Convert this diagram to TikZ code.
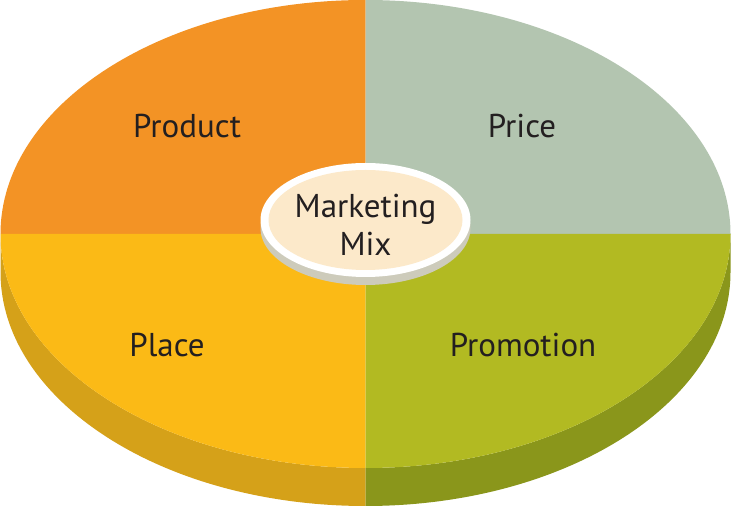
\documentclass[tikz,border=0pt]{standalone}
\usepackage{fontspec}
\setmainfont{PT Sans}
\definecolor{cProduct}{HTML}{F39325}
\definecolor{cPrice}{HTML}{B3C5B0}
\definecolor{cPlace}{HTML}{FBBA16}
\definecolor{cPromo}{HTML}{B2BA22}
\definecolor{cPlaceD}{HTML}{D5A119}
\definecolor{cPromoD}{HTML}{8A961B}
\definecolor{cCream}{HTML}{FCE9CA}
\definecolor{cShadow}{HTML}{CDCBBB}
\definecolor{cText}{HTML}{231F20}
\tikzset{lab/.style={font=\fontsize{33}{38}\selectfont, text=cText, inner sep=0pt}}
\begin{document}
\begin{tikzpicture}[x=1pt,y=1pt]
\useasboundingbox (0,0) rectangle (731,508);
\fill[white] (0,0) rectangle (731,508);
\coordinate (c) at (365.5,274);
% depth
\fill[cPlaceD] (0.5,274) -- (0.5,236) arc[start angle=180,end angle=270,x radius=365,y radius=234] -- (365.5,40) arc[start angle=270,end angle=180,x radius=365,y radius=234] -- cycle;
\fill[cPromoD] (730.5,274) -- (730.5,236) arc[start angle=0,end angle=-90,x radius=365,y radius=234] -- (365.5,40) arc[start angle=-90,end angle=0,x radius=365,y radius=234] -- cycle;
% top face
\fill[cProduct] (c) -- ++(-365,0) arc[start angle=180,end angle=90,x radius=365,y radius=234] -- cycle;
\fill[cPrice] (c) -- ++(0,234) arc[start angle=90,end angle=0,x radius=365,y radius=234] -- cycle;
\fill[cPlace] (c) -- ++(0,-234) arc[start angle=270,end angle=180,x radius=365,y radius=234] -- cycle;
\fill[cPromo] (c) -- ++(365,0) arc[start angle=0,end angle=-90,x radius=365,y radius=234] -- cycle;
% centre
\fill[cShadow] (365.5,280) ellipse[x radius=105,y radius=57];
\fill[white] (365.5,288) ellipse[x radius=105,y radius=57];
\fill[cCream] (365.5,288) ellipse[x radius=97,y radius=50];
\node[lab] (product) at (187,382) {Product};
\node[lab] (price) at (522,382) {Price};
\node[lab] (place) at (167,163) {Place};
\node[lab] (promo) at (523,163) {Promotion};
\node[lab] (mk) at (365.5,299) {Marketing};
\node[lab] (mix) at (365.5,264) {Mix};
\end{tikzpicture}
\end{document}
